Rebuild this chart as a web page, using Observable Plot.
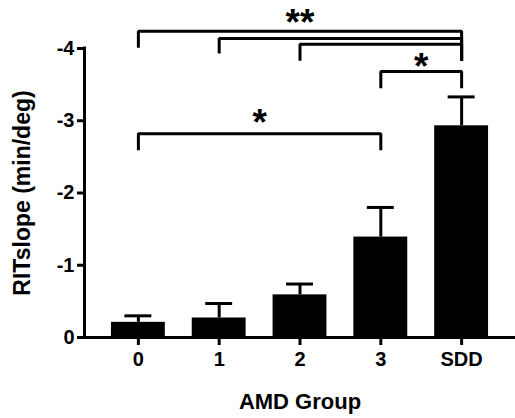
<!DOCTYPE html>
<html>
<head>
<meta charset="utf-8">
<script src="https://cdn.jsdelivr.net/npm/d3@7"></script>
<script src="https://cdn.jsdelivr.net/npm/@observablehq/plot@0.6"></script>
<style>
  html, body { margin: 0; padding: 0; background: #fff; }
</style>
</head>
<body>
<div id="chart"></div>
<script>
// ---- data ----
const groups = ["0", "1", "2", "3", "SDD"];
const means  = [-0.21, -0.27, -0.59, -1.39, -2.93];
const sem    = [0.09, 0.20, 0.15, 0.41, 0.40];
const yTicks = [0, -1, -2, -3, -4];

// significance brackets (group indices by name)
const cmpFrom    = ["0", "1", "2", "3", "0"];
const cmpTo      = ["SDD", "SDD", "SDD", "SDD", "3"];
const cmpLevel   = [-4.24, -4.14, -4.06, -3.68, -2.82];
const cmpLegFrom = [-4.01, -3.93, -3.83, -3.45, -2.59];
const cmpLegTo   = [-3.83, -3.83, -3.83, -3.45, -2.59];

const sigText = ["**", "*", "*"];
const sigFrom = ["0", "3", "0"];
const sigTo   = ["SDD", "SDD", "3"];
const sigY    = [-4.44, -3.83, -3.05];

// ---- derived tables ----
const idx = g => groups.indexOf(g);
const bars = groups.map((g, i) => ({i, g, mean: means[i], hi: means[i] - sem[i]}));
const bracketPts = [];
cmpFrom.forEach((a, k) => {
  const b = cmpTo[k];
  bracketPts.push({k, x: idx(a), y: cmpLegFrom[k]});
  bracketPts.push({k, x: idx(a), y: cmpLevel[k]});
  bracketPts.push({k, x: idx(b), y: cmpLevel[k]});
  bracketPts.push({k, x: idx(b), y: cmpLegTo[k]});
});
const sigs = sigText.map((t, k) => ({t, x: (idx(sigFrom[k]) + idx(sigTo[k])) / 2, y: sigY[k]}));

const font = "'Liberation Sans', Arial, Helvetica, sans-serif";
const xDomain = [-2/3, groups.length - 1 + 2/3];
const SW = 3;

const plot = Plot.plot({
  width: 515,
  height: 418,
  marginLeft: 84,
  marginRight: 0,
  marginTop: 48,
  marginBottom: 81,
  style: {fontFamily: font, fontWeight: "bold", color: "#000", background: "#fff"},
  x: {type: "linear", domain: xDomain},
  y: {domain: [0, -4]},
  marks: [
    // bars
    Plot.rectY(bars, {x1: d => d.i - 1/3, x2: d => d.i + 1/3, y: "mean", fill: "#000"}),
    // error bars (one-sided)
    Plot.ruleX(bars, {x: "i", y1: "mean", y2: "hi", stroke: "#000", strokeWidth: SW}),
    Plot.ruleY(bars, {y: "hi", x1: d => d.i - 1/6, x2: d => d.i + 1/6, stroke: "#000", strokeWidth: SW}),
    // axes lines
    Plot.ruleY([0], {stroke: "#000", strokeWidth: SW, strokeLinecap: "square"}),
    Plot.ruleX([xDomain[0]], {y1: yTicks[0], y2: yTicks[yTicks.length - 1], stroke: "#000", strokeWidth: SW, strokeLinecap: "square"}),
    Plot.axisY({
      ticks: yTicks, tickFormat: d => String(d), tickSize: 7, tickPadding: 3,
      fontSize: 20, fontWeight: "bold", label: null, strokeWidth: SW, stroke: "#000"
    }),
    Plot.axisX({
      ticks: groups.map((g, i) => i), tickFormat: i => groups[i], tickSize: 8, tickPadding: 6,
      fontSize: 20, fontWeight: "bold", label: null, strokeWidth: SW, stroke: "#000"
    }),
    // axis titles
    Plot.text(["AMD Group"], {frameAnchor: "bottom", lineAnchor: "middle", textAnchor: "middle", dy: 64, fontSize: 22, fontWeight: "bold", fill: "#000"}),
    Plot.text(["RITslope (min/deg)"], {frameAnchor: "left", lineAnchor: "middle", textAnchor: "middle", rotate: -90, dx: -62, fontSize: 23, fontWeight: "bold", fill: "#000"}),
    // significance brackets
    Plot.line(bracketPts, {x: "x", y: "y", z: "k", stroke: "#000", strokeWidth: SW, strokeLinejoin: "miter", strokeLinecap: "butt"}),
    Plot.text(sigs, {x: "x", y: "y", text: "t", fontSize: 37, fontWeight: "bold", fill: "#000", dy: 6})
  ]
});
document.getElementById("chart").appendChild(plot);
</script>
</body>
</html>
